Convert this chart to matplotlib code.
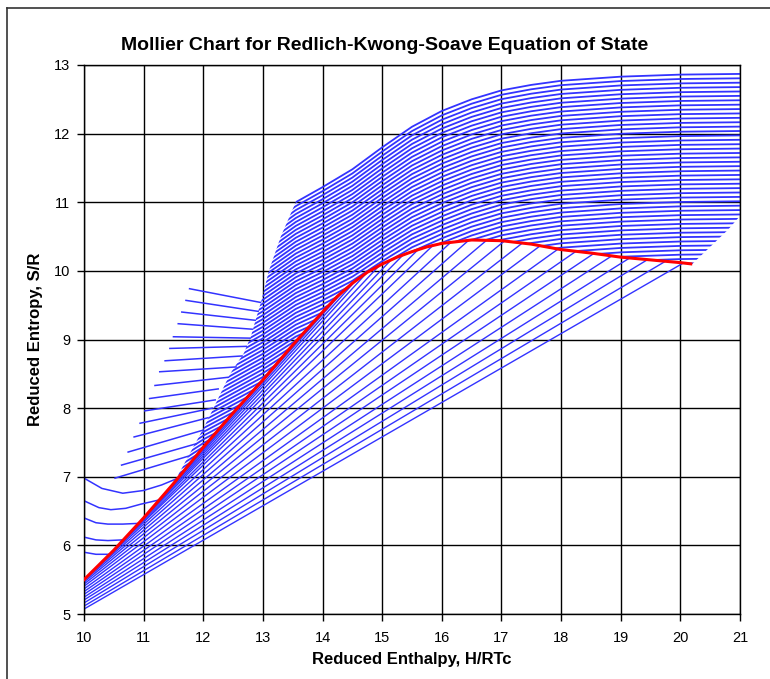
import numpy as np
import matplotlib
matplotlib.use("Agg")
import matplotlib.pyplot as plt
from matplotlib.patches import Polygon
from matplotlib.lines import Line2D

# ---------------- data ----------------
# saturation (red) curve, H/RTc vs S/R (points left of 10 lie outside the axes)
red_H = [8.5, 9.0, 9.5, 10.0, 10.5, 11.0, 11.5, 12.0, 12.5, 13.0, 13.5, 14.0, 14.25,
         14.5, 14.75, 15.0, 15.25, 15.5, 15.75, 16.0, 16.5, 17.0, 17.5, 18.0, 18.5,
         19.0, 19.5, 20.0, 20.2]
red_S = [4.2, 4.65, 5.08, 5.5, 5.93, 6.4, 6.9, 7.43, 7.93, 8.41, 8.92, 9.4, 9.63,
         9.82, 9.98, 10.1, 10.2, 10.28, 10.35, 10.4, 10.45, 10.44, 10.39, 10.31, 10.26,
         10.2, 10.16, 10.12, 10.1]

# two-phase tie lines: liquid-side and vapour-side enthalpy on the red curve
tie_liq_H = [8.8, 8.87, 8.95, 9.03, 9.11, 9.2, 9.29, 9.39, 9.5, 9.61, 9.73, 9.86, 10.0,
             10.15, 10.32, 10.5, 10.7, 10.9, 11.12, 11.35, 11.6, 11.85, 12.1, 12.35, 12.6]
tie_vap_H = [20.05, 19.75, 19.45, 19.15, 18.85, 18.55, 18.25, 17.95, 17.65, 17.35, 17.05,
             16.75, 16.45, 16.15, 15.85, 15.6, 15.35, 15.15, 14.95, 14.75, 14.55, 14.35,
             14.15, 13.95, 13.75]

# isobars above the dome: shape of the top isobar, how far the others sit below it
iso_shape_H = [11.0, 12.0, 13.0, 13.55, 14.0, 14.5, 15.0, 15.5, 16.0, 16.5, 17.0, 17.5,
               18.0, 19.0, 20.0, 21.0]
iso_shape_S = [9.55, 10.1, 10.65, 11.0, 11.22, 11.48, 11.8, 12.1, 12.33, 12.5, 12.63,
               12.71, 12.77, 12.83, 12.86, 12.87]
iso_spread = [0.85, 0.85, 0.88, 0.9, 0.92, 0.94, 0.96, 0.98, 1.0, 1.0, 1.0, 1.0,
              1.0, 1.0, 1.0, 1.0]
iso_offsets = [0.000, 0.064, 0.128, 0.192, 0.256, 0.320, 0.384, 0.448, 0.512, 0.576,
               0.640, 0.704, 0.768, 0.832, 0.896, 0.960, 1.024, 1.088, 1.152, 1.216,
               1.280, 1.344, 1.408, 1.472, 1.536, 1.600, 1.664, 1.728, 1.792, 1.856,
               1.920, 1.984, 2.048, 2.112, 2.176, 2.240, 2.304, 2.368, 2.432, 2.496,
               2.560, 2.624, 2.688, 2.752, 2.816, 2.880, 2.944, 3.008, 3.072, 3.136,
               3.200, 3.264, 3.328]

# left edge of the isobar band and the right-hand end of the superheated region
edge_H = [11.5, 11.75, 12.0, 12.2, 12.45, 12.68, 12.8, 12.9, 12.97, 13.1, 13.3, 13.55]
edge_S = [6.9, 7.3, 7.7, 8.05, 8.5, 8.8, 9.05, 9.35, 9.55, 10.0, 10.5, 11.0]
right_H = [21.0, 21.0, 20.8, 20.5, 20.2]
right_S = [14.0, 10.8, 10.6, 10.35, 10.1]

# compressed-liquid stubs (upper left)
stub_start_H = [10.52, 10.63, 10.74, 10.84, 10.94, 11.02, 11.1, 11.19, 11.27, 11.36,
                11.44, 11.5, 11.58, 11.64, 11.71, 11.77]
stub_start_S = [6.98, 7.17, 7.36, 7.58, 7.78, 7.96, 8.14, 8.33, 8.53, 8.69, 8.87, 9.04,
                9.23, 9.4, 9.57, 9.74]
stub_end_H = [11.75, 11.88, 12.0, 12.08, 12.15, 12.2, 12.25, 12.42, 12.55, 12.65, 12.72,
              12.78, 12.82, 12.87, 12.92, 12.96]
stub_end_S = [7.3, 7.48, 7.68, 7.86, 8.0, 8.12, 8.28, 8.45, 8.6, 8.76, 8.9, 9.02, 9.15,
              9.28, 9.41, 9.54]

# liquid isobars starting at the left axis
liq1_H = [10.0, 10.3, 10.65, 11.0, 11.3, 11.55]
liq1_S = [6.98, 6.83, 6.76, 6.8, 6.88, 6.97]
liq2_H = [10.0, 10.25, 10.45, 10.7, 10.95, 11.25]
liq2_S = [6.65, 6.55, 6.52, 6.54, 6.6, 6.66]
liq3_H = [10.0, 10.2, 10.4, 10.65, 10.9]
liq3_S = [6.4, 6.33, 6.31, 6.31, 6.32]
liq4_H = [10.0, 10.2, 10.4, 10.65]
liq4_S = [6.12, 6.08, 6.07, 6.08]
liq5_H = [10.0, 10.2, 10.42]
liq5_S = [5.9, 5.87, 5.87]

x_ticks = list(range(10, 22))
y_ticks = list(range(5, 14))

# ---------------- figure ----------------
W, H = 770, 679
fig = plt.figure(figsize=(W / 100, H / 100), dpi=100)
ax = fig.add_axes([84 / W, 1 - 614 / H, 656 / W, 549 / H])

BLUE = (0.2, 0.2, 1.0)
FONT = ["Liberation Sans", "DejaVu Sans"]

red_H_a = np.array(red_H)
red_S_a = np.array(red_S)

# tie lines
for a, b in zip(tie_liq_H, tie_vap_H):
    sa = np.interp(a, red_H_a, red_S_a)
    sb = np.interp(b, red_H_a, red_S_a)
    ax.plot([a, b], [sa, sb], color=BLUE, lw=1.0, zorder=2)

# clip region for isobars outside the dome
sel = (red_H_a > 11.5) & (red_H_a < 20.2)
verts = (list(zip(edge_H, edge_S)) + [(13.55, 14.0)] + list(zip(right_H, right_S))
         + list(zip(red_H_a[sel][::-1], red_S_a[sel][::-1])))
clip = Polygon(verts, closed=True, transform=ax.transData)

shape_S = np.array(iso_shape_S)
spread = np.array(iso_spread)
for d in iso_offsets:
    ln, = ax.plot(iso_shape_H, shape_S - d * spread, color=BLUE, lw=1.3, zorder=2)
    ln.set_clip_path(clip)

# stubs
for h0, s0, h1, s1 in zip(stub_start_H, stub_start_S, stub_end_H, stub_end_S):
    ax.plot([h0, h1], [s0, s1], color=BLUE, lw=1.1, zorder=2)

# liquid curves
for hh, ss in [(liq1_H, liq1_S), (liq2_H, liq2_S), (liq3_H, liq3_S),
               (liq4_H, liq4_S), (liq5_H, liq5_S)]:
    ax.plot(hh, ss, color=BLUE, lw=1.1, zorder=2)

# saturation curve
ax.plot(red_H, red_S, color=(1.0, 0.0, 0.0), lw=2.2, zorder=4,
        solid_capstyle="butt", solid_joinstyle="round")

ax.set_xlim(10, 21)
ax.set_ylim(5, 13)
ax.set_xticks(x_ticks)
ax.set_yticks(y_ticks)
ax.set_xticklabels([str(v) for v in x_ticks], fontfamily=FONT, fontsize=10.5)
ax.set_yticklabels([str(v) for v in y_ticks], fontfamily=FONT, fontsize=10.5)
ax.grid(True, color="black", lw=1.0, zorder=0)
ax.set_axisbelow(True)
ax.tick_params(axis="x", direction="out", length=5, width=1, color="black", pad=7)
ax.tick_params(axis="y", direction="out", length=5, width=1, color="black", pad=5)
for sp in ax.spines.values():
    sp.set_color("black")
    sp.set_linewidth(1.0)

ax.set_xlabel("Reduced Enthalpy, H/RTc", fontfamily=FONT, fontsize=12,
              fontweight="bold", labelpad=5)
ax.set_ylabel("Reduced Entropy, S/R", fontfamily=FONT, fontsize=12,
              fontweight="bold", labelpad=8)
fig.text(0.5, 1 - 46 / H, "Mollier Chart for Redlich-Kwong-Soave Equation of State",
         ha="center", va="center", fontfamily=FONT, fontsize=14, fontweight="bold")

# outer chart frame (top and left visible)
fig.add_artist(Line2D([7 / W, 7 / W], [0, 1 - 8 / H], transform=fig.transFigure,
                      color="#333333", lw=1.2))
fig.add_artist(Line2D([7 / W, 1], [1 - 8 / H, 1 - 8 / H], transform=fig.transFigure,
                      color="#333333", lw=1.2))

fig.savefig("out.png", dpi=100)
